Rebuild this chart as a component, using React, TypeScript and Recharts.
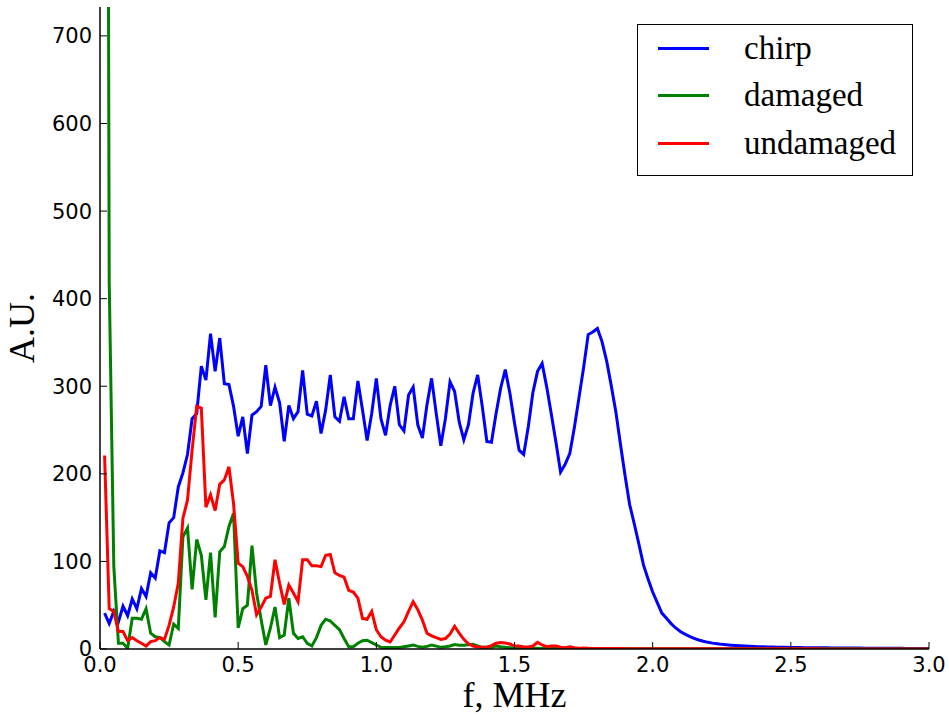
import React from 'react';
import { LineChart, Line, XAxis, YAxis, Legend } from 'recharts';

// FFT bin spacing (MHz); first bin is at one step
const F_STEP = 1 / 60;

const chirp = [
  41, 29, 43, 31, 49, 38, 57, 46, 69, 60,
  87, 81, 112, 110, 144, 150, 185, 201, 222, 263,
  269, 323, 307, 360, 317, 355, 303, 302, 277, 243,
  265, 223, 267, 271, 277, 324, 278, 299, 281, 237,
  278, 263, 271, 318, 268, 266, 283, 246, 273, 313,
  265, 260, 288, 263, 263, 306, 273, 238, 269, 309,
  263, 244, 278, 300, 256, 249, 290, 299, 256, 241,
  279, 309, 269, 232, 263, 305, 294, 259, 239, 256,
  292, 313, 277, 237, 236, 269, 298, 319, 292, 258,
  227, 222, 254, 293, 317, 326, 299, 268, 236, 202,
  211, 223, 253, 287, 321, 359, 362, 366, 351, 329,
  301, 271, 234, 198, 165, 143, 120, 96, 80, 65,
  53, 41, 35, 29, 24, 20, 17, 14.5, 12.2, 10.3,
  8.8, 7.6, 6.7, 6.1, 5.3, 4.8, 4.4, 4.0, 3.7, 3.4,
  3.1, 2.9, 2.7, 2.5, 2.3, 2.2, 2.1, 2.0, 1.9, 1.8,
  1.7, 1.6, 1.55, 1.5, 1.45, 1.4, 1.35, 1.3, 1.25, 1.2,
  1.15, 1.1, 1.05, 1.0, 1.0, 0.95, 0.9, 0.9, 0.85, 0.85,
  0.8, 0.8, 0.75, 0.75, 0.7, 0.7, 0.7, 0.65, 0.65, 0.6,
];

const damaged = [
  2500, 420, 94, 6.5, 6.5, 0.8, 35, 35, 34, 46,
  18, 14, 13, 8.4, 4.6, 28.5, 23.6, 128, 138, 68,
  125, 107, 56, 110, 36, 111, 117, 140, 155, 24,
  46, 50, 118, 64, 33, 4.6, 24, 48, 13, 16,
  58, 18, 12, 14, 6.5, 3.4, 13, 27, 34, 32,
  27, 22, 12, 2.7, 2.7, 6.5, 9.5, 10, 7.3, 4.6,
  1.9, 1.8, 1.8, 1.8, 1.7, 2.5, 3.4, 4.4, 3, 1.9,
  3, 4.4, 3.3, 1.9, 2.5, 3.4, 5, 4.4, 4.2, 4.8,
  5.3, 3.4, 1.9, 1.9, 1.9, 3.4, 2.5, 1.9, 1.5, 1.2,
  1.0, 1.1, 0.9, 0.8, 0.8, 0.7, 0.7, 0.6, 0.6, 0.5,
  0.5, 0.5, 0.5, 0.45, 0.45, 0.45, 0.4, 0.4, 0.4, 0.4,
  0.4, 0.35, 0.35, 0.35, 0.35, 0.35, 0.3, 0.3, 0.3, 0.3,
  0.3, 0.3, 0.3, 0.3, 0.25, 0.25, 0.25, 0.25, 0.25, 0.25,
  0.25, 0.25, 0.2, 0.2, 0.2, 0.2, 0.2, 0.2, 0.2, 0.2,
  0.2, 0.2, 0.2, 0.2, 0.2, 0.2, 0.2, 0.2, 0.15, 0.15,
  0.15, 0.15, 0.15, 0.15, 0.15, 0.15, 0.15, 0.15, 0.15, 0.15,
  0.15, 0.15, 0.15, 0.15, 0.1, 0.1, 0.1, 0.1, 0.1, 0.1,
  0.1, 0.1, 0.1, 0.1, 0.1, 0.1, 0.1, 0.1, 0.1, 0.1,
];

const undamaged = [
  221, 46, 43, 20, 20, 9.5, 13, 9.5, 6.5, 3.4,
  8.4, 9.5, 13, 11, 27, 48, 75, 149, 170, 227,
  277, 275, 162, 176, 158, 188, 193, 208, 166, 98,
  94, 83, 67, 39, 48, 58, 60, 102, 75, 51,
  73, 64, 54, 102, 102, 95, 95, 94, 107, 108,
  87, 84, 82, 67, 65, 58, 35, 34, 43, 22,
  14, 10, 8, 16, 24, 31, 43, 54, 45, 33,
  18, 15, 13, 11, 12, 17, 26, 18, 11, 6,
  3.4, 2.3, 2, 2, 3.8, 6.5, 7.5, 6.9, 5.7, 3.4,
  3.4, 2.3, 2.3, 3.4, 7.6, 4.6, 2.7, 3.4, 3.4, 2,
  1.5, 2.5, 1.5, 1, 1.2, 0.8, 0.6, 0.6, 0.5, 0.5,
  0.5, 0.45, 0.45, 0.4, 0.4, 0.4, 0.35, 0.35, 0.35, 0.3,
  0.3, 0.3, 0.3, 0.3, 0.25, 0.25, 0.25, 0.25, 0.25, 0.25,
  0.2, 0.2, 0.2, 0.2, 0.2, 0.2, 0.2, 0.2, 0.2, 0.2,
  0.2, 0.2, 0.15, 0.15, 0.15, 0.15, 0.15, 0.15, 0.15, 0.15,
  0.15, 0.15, 0.15, 0.15, 0.15, 0.15, 0.1, 0.1, 0.1, 0.1,
  0.1, 0.1, 0.1, 0.1, 0.1, 0.1, 0.1, 0.1, 0.1, 0.1,
  0.1, 0.1, 0.1, 0.1, 0.1, 0.1, 0.1, 0.1, 0.1, 0.1,
];

const xTicks = [0, 0.5, 1.0, 1.5, 2.0, 2.5, 3.0];
const yTicks = [0, 100, 200, 300, 400, 500, 600, 700];
const X_MAX = 3;
const Y_MAX = 733;

const series = [
  { key: 'chirp', color: '#0000ff' },
  { key: 'damaged', color: '#008000' },
  { key: 'undamaged', color: '#ff0000' },
];

const data = chirp.map((c, i) => ({
  f: (i + 1) * F_STEP,
  chirp: c,
  damaged: damaged[i],
  undamaged: undamaged[i],
}));

const SERIF = '"Liberation Serif", "Times New Roman", serif';
const SANS = '"DejaVu Sans", sans-serif';

function LegendBox(props: any) {
  const payload = (props && props.payload && props.payload.length ? props.payload : series.map((s) => ({ value: s.key, color: s.color })));
  return (
    <div
      style={{
        width: 276,
        height: 152,
        boxSizing: 'border-box',
        border: '1.5px solid #000',
        background: '#fff',
        fontFamily: SERIF,
        fontSize: 33,
        color: '#000',
      }}
    >
      {payload.map((p: any) => (
        <div
          key={p.value}
          style={{ height: 47.3, display: 'flex', alignItems: 'center', whiteSpace: 'nowrap' }}
        >
          <div style={{ width: 51, height: 3, background: p.color, marginLeft: 20, marginRight: 35 }} />
          <span>{p.value}</span>
        </div>
      ))}
    </div>
  );
}

const YLabel = (props: any) => {
  const vb = props.viewBox || {};
  const cx = (vb.x || 0) + 34;
  const cy = (vb.y || 0) + (vb.height || 0) / 2;
  return (
    <text
      x={cx}
      y={cy}
      transform={`rotate(-90 ${cx} ${cy})`}
      textAnchor="middle"
      fontFamily={SERIF}
      fontSize={36}
      fill="#000"
    >
      A.U.
    </text>
  );
};

const axisLine = { stroke: '#000', strokeWidth: 1.5 };
const tickLine = { stroke: '#000', strokeWidth: 1 };

export default function App() {
  return (
    <div style={{ position: 'absolute', left: 0, top: 0, width: 949, height: 715, background: '#fff' }}>
      <LineChart width={949} height={715} data={data} margin={{ top: 7, right: 20, bottom: 0, left: 0 }}>
        <XAxis
          xAxisId="b"
          dataKey="f"
          type="number"
          domain={[0, X_MAX]}
          ticks={xTicks}
          interval={0}
          allowDataOverflow
          height={66}
          tickSize={-7}
          tickMargin={15}
          axisLine={axisLine}
          tickLine={tickLine}
          tick={{ fill: '#000', fontSize: 21, fontFamily: SANS }}
          tickFormatter={(v: number) => v.toFixed(1)}
          label={{ value: 'f, MHz', position: 'insideBottom', offset: 8, fill: '#000', fontSize: 36, fontFamily: SERIF }}
        />
        <XAxis
          xAxisId="t"
          orientation="top"
          dataKey="f"
          type="number"
          domain={[0, X_MAX]}
          ticks={xTicks}
          interval={0}
          allowDataOverflow
          height={0}
          tickSize={-7}
          tick={false}
          axisLine={axisLine}
          tickLine={tickLine}
        />
        <YAxis
          yAxisId="l"
          type="number"
          domain={[0, Y_MAX]}
          ticks={yTicks}
          interval={0}
          allowDataOverflow
          width={100}
          tickSize={-7}
          tickMargin={15}
          axisLine={axisLine}
          tickLine={tickLine}
          tick={{ fill: '#000', fontSize: 21, fontFamily: SANS }}
          label={YLabel}
        />
        <YAxis
          yAxisId="r"
          orientation="right"
          type="number"
          domain={[0, Y_MAX]}
          ticks={yTicks}
          interval={0}
          allowDataOverflow
          width={0}
          tickSize={-7}
          tick={false}
          axisLine={axisLine}
          tickLine={tickLine}
        />
        {series.map((s) => (
          <Line
            key={s.key}
            xAxisId="b"
            yAxisId="l"
            type="linear"
            dataKey={s.key}
            name={s.key}
            stroke={s.color}
            strokeWidth={3}
            dot={false}
            activeDot={false}
            isAnimationActive={false}
          />
        ))}
        <Legend
          layout="vertical"
          align="center"
          verticalAlign="middle"
          width={276}
          height={152}
          wrapperStyle={{ left: 637, top: 24, width: 276, height: 152 }}
          content={(p: any) => <LegendBox payload={p.payload} />}
        />
      </LineChart>
    </div>
  );
}
